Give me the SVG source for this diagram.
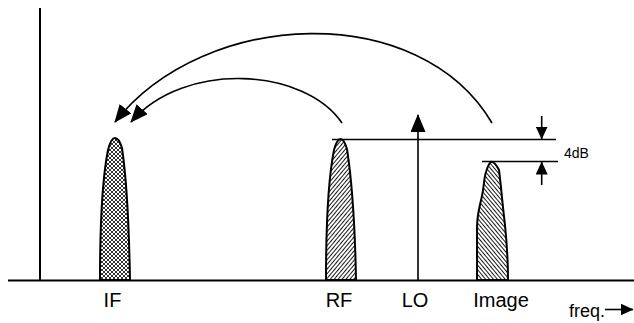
<svg xmlns="http://www.w3.org/2000/svg" width="634" height="323" viewBox="0 0 634 323">
<style>
.ln{stroke:#000;fill:none;stroke-width:1.6}
.ax{stroke:#000;fill:none;stroke-width:2}
.pk{stroke:#000;stroke-width:2}
.lbl{font-family:"Liberation Sans",Arial,sans-serif;font-size:20px;fill:#000;text-anchor:middle}
.sm{font-family:"Liberation Sans",Arial,sans-serif;fill:#000}
</style>
<defs>
<pattern id="xh" patternUnits="userSpaceOnUse" width="4" height="4">
<rect width="4" height="4" fill="#fff"/>
<path d="M0,0 L4,4 M4,0 L0,4" stroke="#000" stroke-width="0.8"/>
</pattern>
<pattern id="fw" patternUnits="userSpaceOnUse" width="3" height="10" patternTransform="rotate(40)">
<rect width="3" height="10" fill="#fff"/>
<line x1="0.5" y1="0" x2="0.5" y2="10" stroke="#000" stroke-width="0.9"/>
</pattern>
<pattern id="bw" patternUnits="userSpaceOnUse" width="3" height="10" patternTransform="rotate(-40)">
<rect width="3" height="10" fill="#fff"/>
<line x1="0.5" y1="0" x2="0.5" y2="10" stroke="#000" stroke-width="0.9"/>
</pattern>
<marker id="ah" viewBox="0 0 18 15" refX="17" refY="7.5" markerWidth="18" markerHeight="15" markerUnits="userSpaceOnUse" orient="auto">
<path d="M0,0 L18,7.5 L0,15 Z" fill="#000"/>
</marker>
<marker id="as" viewBox="0 0 13 12" refX="12.5" refY="6" markerWidth="13" markerHeight="12" markerUnits="userSpaceOnUse" orient="auto">
<path d="M0,0 L13,6 L0,12 Z" fill="#000"/>
</marker>
</defs>

<g id="axes">
<line class="ax" x1="40" y1="8" x2="40" y2="281"/>
<line class="ax" x1="8" y1="280.5" x2="634" y2="280.5"/>
</g>

<g id="if-peak">
<path class="pk" fill="url(#xh)" d="M100,280 C100,225 103,175 108,150 Q111,138 115,138 Q119,138 122,148 C126,175 129,225 130,280 Z"/>
<text class="lbl" x="112.5" y="307">IF</text>
</g>

<g id="rf-peak">
<path class="pk" fill="url(#fw)" d="M326,280 C326,225 329,175 334,150 Q337,139 340.5,139 Q344,139 347,149 C351,175 355,225 356,280 Z"/>
<text class="lbl" x="339" y="307">RF</text>
</g>

<g id="lo">
<line class="ln" x1="418" y1="280" x2="418" y2="115" stroke-width="2" marker-end="url(#ah)"/>
<text class="lbl" x="415" y="307">LO</text>
</g>

<g id="image-peak">
<path class="pk" fill="url(#bw)" d="M477,280 L477,228 C477,214 480,205 482,196 C484,186 484,178 486,172 Q489,162 491.7,161.7 Q495,162 499,170 C501,185 502,200 505,225 C507,245 508,260 508,280 Z"/>
<text class="lbl" x="501" y="307">Image</text>
</g>

<g id="levels">
<line class="ln" x1="332" y1="139.5" x2="556" y2="139.5"/>
<line class="ln" x1="482" y1="161.5" x2="558" y2="161.5"/>
<line class="ln" x1="541.7" y1="116" x2="541.7" y2="139" marker-end="url(#as)"/>
<line class="ln" x1="541.7" y1="185" x2="541.7" y2="162" marker-end="url(#as)"/>
<text class="sm" x="564" y="158" font-size="14">4dB</text>
</g>

<g id="connectors">
<path class="ln" d="M492,123 C420,0 205,8 115,122" marker-end="url(#ah)"/>
<path class="ln" d="M342,123 C305,68 185,60 131,122" marker-end="url(#ah)"/>
</g>

<g id="freq">
<text class="sm" x="569" y="317" font-size="18">freq.</text>
<line class="ln" x1="605" y1="309.5" x2="633" y2="309.5" marker-end="url(#as)"/>
</g>
</svg>
